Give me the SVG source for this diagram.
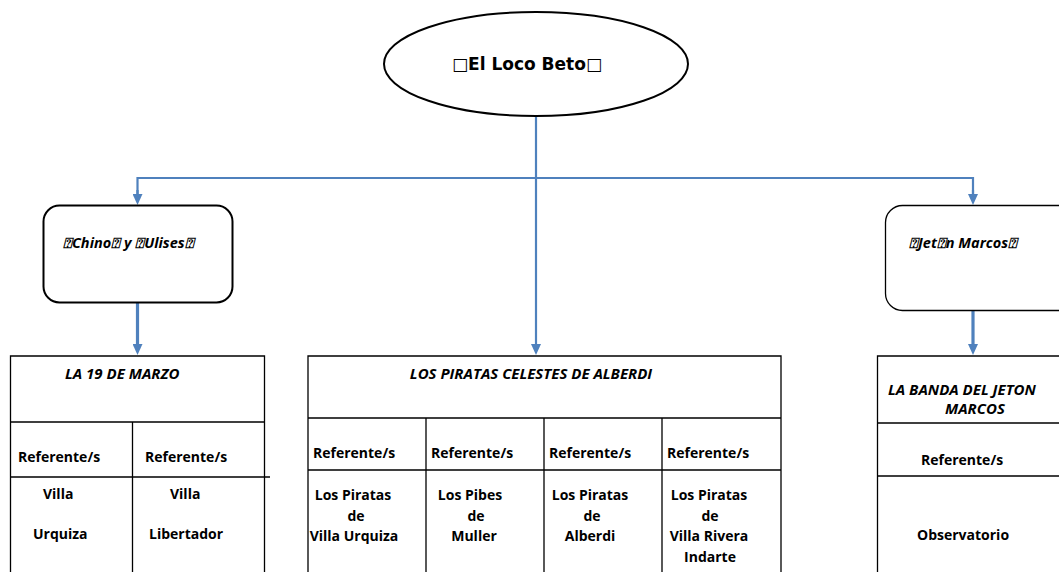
<svg xmlns="http://www.w3.org/2000/svg" width="1059" height="572" viewBox="0 0 1059 572">
<style>
.b{fill:#fff;stroke:#000;stroke-width:2}
.t{fill:none;stroke:#000;stroke-width:1.3}
.c{fill:none;stroke:#4f81bd;stroke-width:2.2}
.c3{fill:none;stroke:#4f81bd;stroke-width:3.2}
text{font-family:"Liberation Sans","DejaVu Sans",sans-serif;font-weight:bold;fill:#000}
.s{font-family:"Open Sans","DejaVu Sans",sans-serif;font-size:14px}
.i{font-family:"Open Sans","DejaVu Sans",sans-serif;font-size:15px;font-style:italic}
.q{font-family:"Open Sans","DejaVu Sans",sans-serif;font-size:14.5px;font-style:italic}
</style>
<defs>
<marker id="ah" markerWidth="11" markerHeight="10" refX="5" refY="5" orient="auto" markerUnits="userSpaceOnUse" viewBox="0 0 11 10">
<path d="M0,0 L11,5 L0,10 Z" fill="#4f81bd"/>
</marker>
</defs>
<rect width="1059" height="572" fill="#fff"/>
<g id="connectors">
<path class="c" d="M536,116 V178"/>
<path class="c" d="M137.5,196 V178 H973 V196"/>
<line x1="137.5" y1="190" x2="137.5" y2="199" class="c" marker-end="url(#ah)"/>
<line x1="973" y1="190" x2="973" y2="199" class="c" marker-end="url(#ah)"/>
<line x1="536" y1="178" x2="536" y2="349" class="c" marker-end="url(#ah)"/>
<line x1="137.5" y1="302" x2="137.5" y2="349" class="c3" marker-end="url(#ah)"/>
<line x1="973" y1="311" x2="973" y2="349" class="c3" marker-end="url(#ah)"/>
</g>
<g id="root">
<ellipse class="b" cx="536" cy="64" rx="152" ry="52"/>
<text x="527" y="70" text-anchor="middle" font-size="17" style="font-family:'DejaVu Sans',sans-serif">□El Loco Beto□</text>
</g>
<g id="chino">
<rect class="b" x="43.5" y="205.5" width="189" height="97" rx="16"/>
<text class="q" x="63" y="248">⍰Chino⍰ y ⍰Ulises⍰</text>
</g>
<g id="jeton">
<rect x="885.5" y="205.5" width="190" height="105" rx="17" fill="#fff" stroke="#000" stroke-width="1.3"/>
<text class="q" x="909" y="248">⍰Jet⍰n Marcos⍰</text>
</g>
<g id="marzo">
<path class="t" d="M10.5,575 V356 H264.5 V575 M10.5,422 H264.5 M132.5,422 V575 M10.5,477 H270"/>
<text class="i" x="65" y="379">LA 19 DE MARZO</text>
<text class="s" x="18" y="462">Referente/s</text>
<text class="s" x="145" y="462">Referente/s</text>
<text class="s" x="43" y="499">Villa</text>
<text class="s" x="33" y="539">Urquiza</text>
<text class="s" x="170" y="499">Villa</text>
<text class="s" x="149" y="539">Libertador</text>
</g>
<g id="piratas">
<path class="t" d="M308,575 V356 H781 V575 M308,418 H781 M308,470 H781 M426,418 V575 M544,418 V575 M662,418 V575"/>
<text class="i" x="531" y="379" text-anchor="middle">LOS PIRATAS CELESTES DE ALBERDI</text>
<text class="s" x="313" y="458">Referente/s</text>
<text class="s" x="431" y="458">Referente/s</text>
<text class="s" x="549" y="458">Referente/s</text>
<text class="s" x="667" y="458">Referente/s</text>
<g text-anchor="middle">
<text class="s" x="353" y="500">Los Piratas</text>
<text class="s" x="356" y="521">de</text>
<text class="s" x="354" y="541">Villa Urquiza</text>
<text class="s" x="470" y="500">Los Pibes</text>
<text class="s" x="476" y="521">de</text>
<text class="s" x="474" y="541">Muller</text>
<text class="s" x="590" y="500">Los Piratas</text>
<text class="s" x="592" y="521">de</text>
<text class="s" x="590" y="541">Alberdi</text>
<text class="s" x="709" y="500">Los Piratas</text>
<text class="s" x="710" y="521">de</text>
<text class="s" x="709" y="541">Villa Rivera</text>
<text class="s" x="710" y="562">Indarte</text>
</g>
</g>
<g id="banda">
<path class="t" d="M877.5,575 V356 H1062 M877.5,423 H1062 M877.5,476 H1062"/>
<text class="i" x="888" y="395">LA BANDA DEL JETON</text>
<text class="i" x="945" y="414">MARCOS</text>
<text class="s" x="921" y="465">Referente/s</text>
<text class="s" x="917" y="540">Observatorio</text>
</g>
</svg>
